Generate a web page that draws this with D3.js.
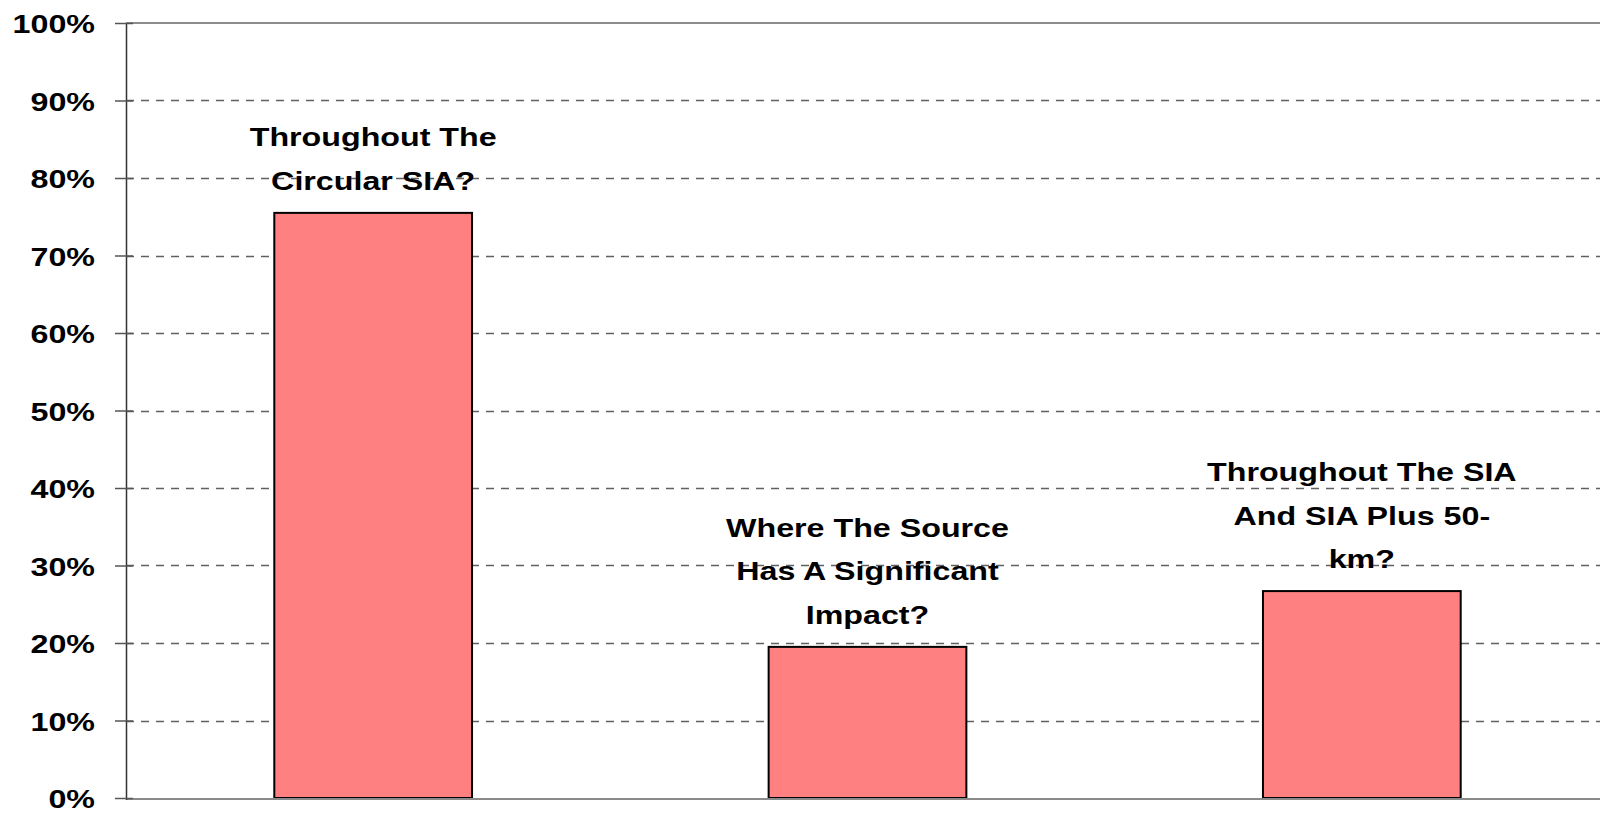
<!DOCTYPE html>
<html>
<head>
<meta charset="utf-8">
<script src="https://cdn.jsdelivr.net/npm/d3@7"></script>
<style>
  html, body { margin: 0; padding: 0; background: #fff; }
  svg { display: block; }
  text { font-family: "Liberation Sans", Arial, sans-serif; font-weight: bold; fill: #000; }
</style>
</head>
<body>
<svg id="chart" width="1600" height="816"></svg>
<script>
const categories = [
  ["Throughout The", "Circular SIA?"],
  ["Where The Source", "Has A Significant", "Impact?"],
  ["Throughout The SIA", "And SIA Plus 50-", "km?"]
];
const values = [0.755, 0.195, 0.267];
const tickValues = [0, 0.1, 0.2, 0.3, 0.4, 0.5, 0.6, 0.7, 0.8, 0.9, 1.0];
const tickLabels = ["0%", "10%", "20%", "30%", "40%", "50%", "60%", "70%", "80%", "90%", "100%"];

const W = 1600, H = 816;
const plotLeft = 126, plotRight = 1609, plotTop = 23, plotBottom = 798;
const sx = 1.24;       // horizontal text stretch
const fs = 26;         // font size
const lineH = 43.5;

const svg = d3.select("#chart");

const x = d3.scaleBand()
  .domain(d3.range(values.length))
  .range([plotLeft, plotRight])
  .paddingInner(0.6)
  .paddingOuter(0.3);

const y = d3.scaleLinear().domain([0, 1]).range([plotBottom, plotTop]);

// gridlines
const grid = svg.append("g");
grid.selectAll("line.dash")
  .data(tickValues.filter(v => v > 0 && v < 1))
  .join("line")
  .attr("x1", plotLeft).attr("x2", W)
  .attr("y1", d => Math.round(y(d)) + 0.5).attr("y2", d => Math.round(y(d)) + 0.5)
  .attr("stroke", "#606060").attr("stroke-width", 1.3)
  .attr("stroke-dasharray", "8,7")
  .attr("stroke-dashoffset", -15);

// top border line (100%)
grid.append("line")
  .attr("x1", plotLeft).attr("x2", W)
  .attr("y1", y(1)).attr("y2", y(1))
  .attr("stroke", "#8c8c8c").attr("stroke-width", 2);

// bars
svg.append("g").selectAll("rect")
  .data(values)
  .join("rect")
  .attr("x", (d, i) => x(i))
  .attr("width", x.bandwidth())
  .attr("y", d => y(d))
  .attr("height", d => y(0) - y(d))
  .attr("fill", "#FF8080")
  .attr("stroke", "#000")
  .attr("stroke-width", 2);

// bottom axis line
svg.append("line")
  .attr("x1", plotLeft).attr("x2", W)
  .attr("y1", y(0) + 1).attr("y2", y(0) + 1)
  .attr("stroke", "#8a8a8a").attr("stroke-width", 2);

// y axis
const yAxis = d3.axisLeft(y)
  .tickValues(tickValues)
  .tickFormat((d, i) => tickLabels[i])
  .tickSize(10)
  .tickPadding(0);

const ag = svg.append("g").attr("transform", `translate(${plotLeft},0)`).call(yAxis);
ag.select(".domain").attr("stroke", "#333").attr("stroke-width", 1.5).attr("d", `M0.5,${plotTop}V${plotBottom + 2}`);
ag.selectAll(".tick line").attr("stroke", "#555").attr("stroke-width", 1.5).attr("x2", -11).attr("x1", 7);
ag.selectAll(".tick text")
  .attr("x", null).attr("dy", null)
  .attr("font-size", fs)
  .attr("font-family", "'Liberation Sans', Arial, sans-serif")
  .attr("font-weight", "bold")
  .attr("fill", "#000")
  .attr("text-anchor", "end")
  .attr("transform", `translate(-31,9.5) scale(${sx},1)`);

// category labels above bars
const lg = svg.append("g");
categories.forEach((lines, i) => {
  const cx = x(i) + x.bandwidth() / 2;
  const lastBase = y(values[i]) - 23;
  lines.forEach((ln, j) => {
    const by = lastBase - (lines.length - 1 - j) * lineH;
    lg.append("text")
      .attr("transform", `translate(${cx},${by}) scale(${sx},1)`)
      .attr("text-anchor", "middle")
      .attr("font-size", fs)
      .text(ln);
  });
});
</script>
</body>
</html>
